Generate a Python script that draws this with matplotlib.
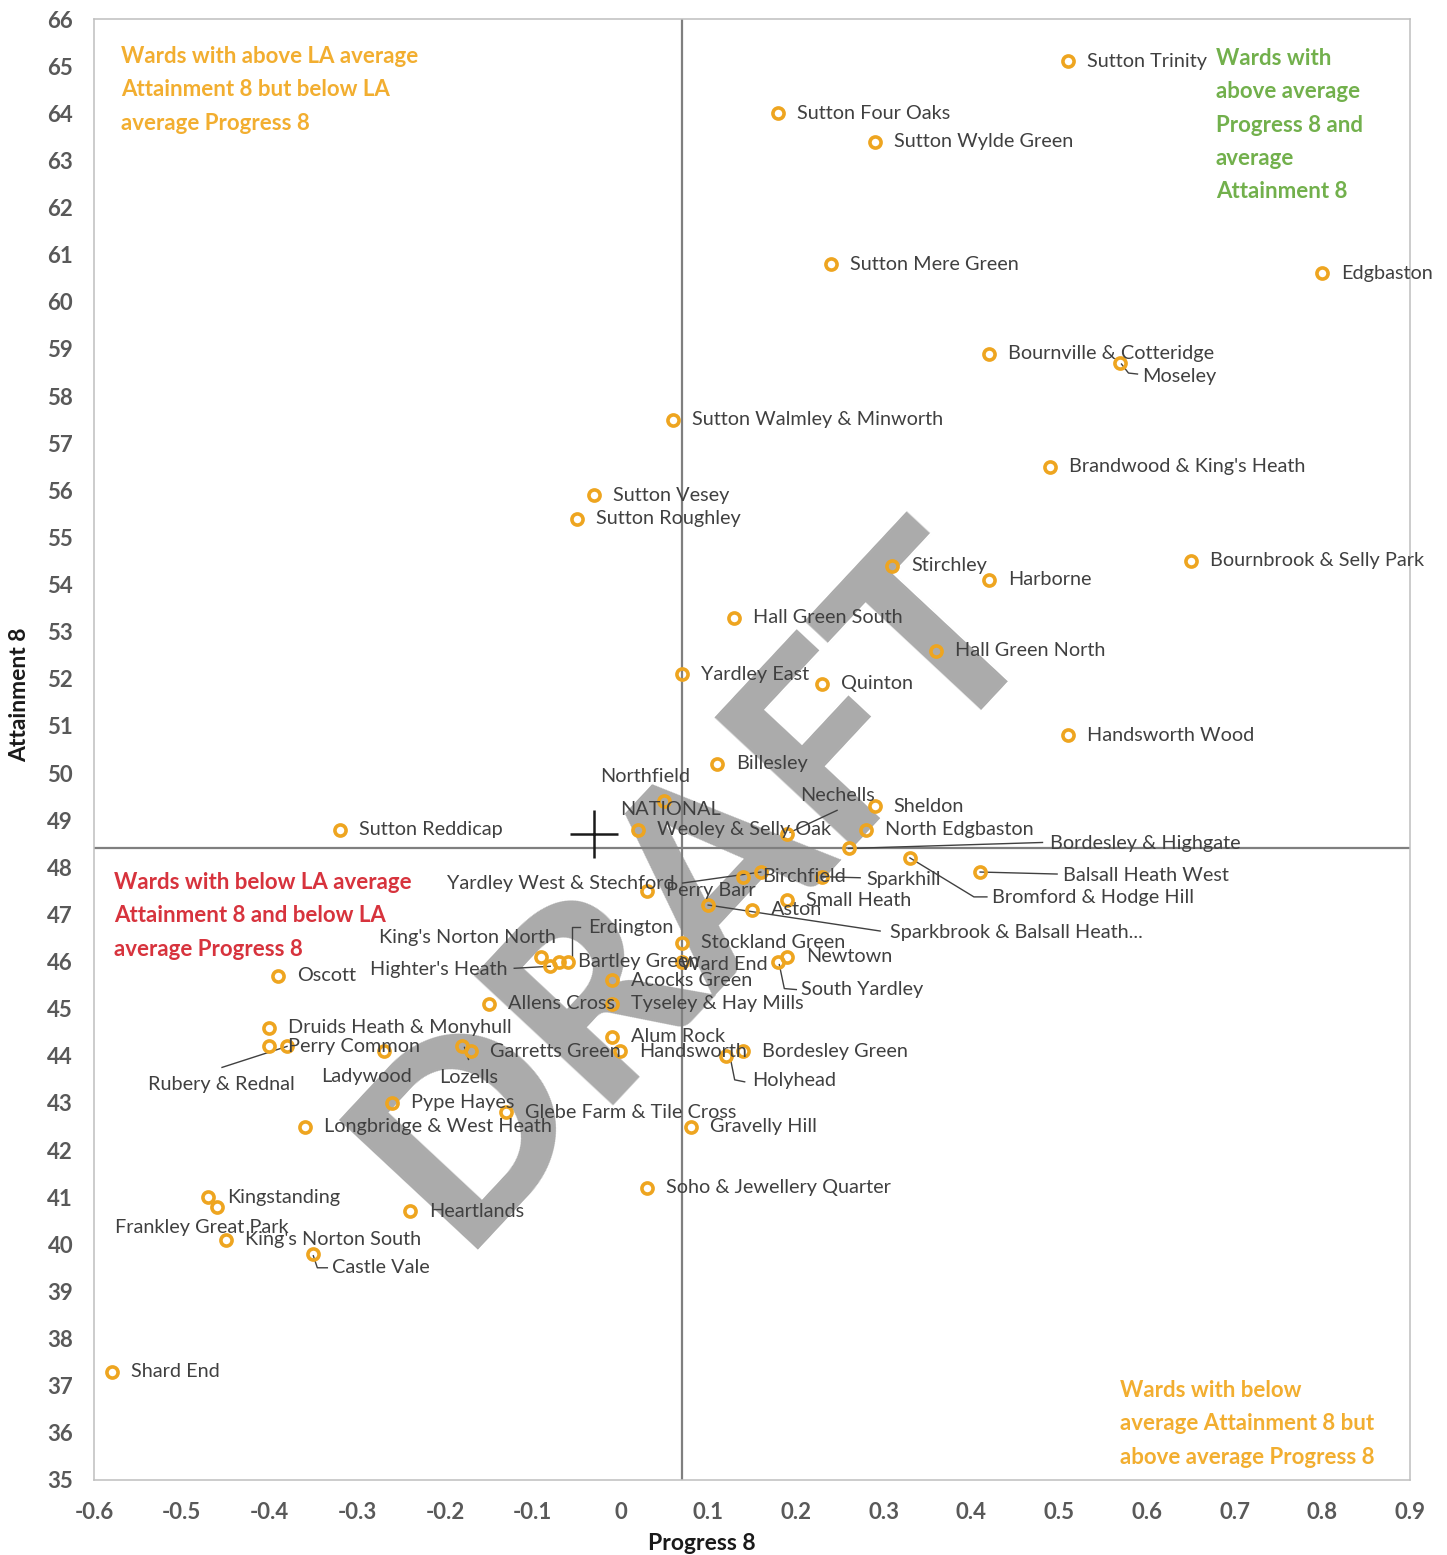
import matplotlib
matplotlib.use("Agg")
import matplotlib.pyplot as plt
import matplotlib.transforms as mtransforms
from matplotlib.lines import Line2D

# ---- data: Progress 8 / Attainment 8 by ward ----
wards = [
    "Sutton Trinity", "Sutton Four Oaks", "Sutton Wylde Green", "Sutton Mere Green",
    "Edgbaston", "Bournville & Cotteridge", "Moseley", "Sutton Walmley & Minworth",
    "Brandwood & King's Heath", "Sutton Vesey", "Sutton Roughley", "Bournbrook & Selly Park",
    "Stirchley", "Harborne", "Hall Green South", "Hall Green North", "Yardley East",
    "Quinton", "Handsworth Wood", "Billesley", "Northfield", "Sheldon",
    "Weoley & Selly Oak", "North Edgbaston", "Nechells", "Sutton Reddicap",
    "Bordesley & Highgate", "Bromford & Hodge Hill", "Balsall Heath West",
    "Yardley West & Stechford", "Birchfield", "Sparkhill", "Perry Barr", "Small Heath",
    "Aston", "Sparkbrook & Balsall Heath...", "Stockland Green", "King's Norton North",
    "Highter's Heath", "Bartley Green", "Erdington", "Ward End", "Newtown",
    "South Yardley", "Oscott", "Acocks Green", "Allens Cross", "Tyseley & Hay Mills",
    "Druids Heath & Monyhull", "Alum Rock", "Perry Common", "Rubery & Rednal",
    "Lozells", "Ladywood", "Garretts Green", "Handsworth", "Bordesley Green",
    "Holyhead", "Pype Hayes", "Glebe Farm & Tile Cross", "Longbridge & West Heath",
    "Gravelly Hill", "Soho & Jewellery Quarter", "Kingstanding", "Frankley Great Park",
    "Heartlands", "King's Norton South", "Castle Vale", "Shard End",
]
progress8 = [
    0.51, 0.18, 0.29, 0.24,
    0.80, 0.42, 0.57, 0.06,
    0.49, -0.03, -0.05, 0.65,
    0.31, 0.42, 0.13, 0.36, 0.07,
    0.23, 0.51, 0.11, 0.05, 0.29,
    0.02, 0.28, 0.19, -0.32,
    0.26, 0.33, 0.41,
    0.16, 0.14, 0.23, 0.03, 0.19,
    0.15, 0.10, 0.07, -0.09,
    -0.08, -0.07, -0.06, 0.07, 0.19,
    0.18, -0.39, -0.01, -0.15, -0.01,
    -0.40, -0.01, -0.40, -0.38,
    -0.18, -0.27, -0.17, 0.00, 0.14,
    0.12, -0.26, -0.13, -0.36,
    0.08, 0.03, -0.47, -0.46,
    -0.24, -0.45, -0.35, -0.58,
]
attainment8 = [
    65.1, 64.0, 63.4, 60.8,
    60.6, 58.9, 58.7, 57.5,
    56.5, 55.9, 55.4, 54.5,
    54.4, 54.1, 53.3, 52.6, 52.1,
    51.9, 50.8, 50.2, 49.4, 49.3,
    48.8, 48.8, 48.7, 48.8,
    48.4, 48.2, 47.9,
    47.9, 47.8, 47.8, 47.5, 47.3,
    47.1, 47.2, 46.4, 46.1,
    45.9, 46.0, 46.0, 46.0, 46.1,
    46.0, 45.7, 45.6, 45.1, 45.1,
    44.6, 44.4, 44.2, 44.2,
    44.2, 44.1, 44.1, 44.1, 44.1,
    44.0, 43.0, 42.8, 42.5,
    42.5, 41.2, 41.0, 40.8,
    40.7, 40.1, 39.8, 37.3,
]

national_label = "NATIONAL"
national_p8 = -0.03
national_a8 = 48.7

la_avg_p8 = 0.07
la_avg_a8 = 48.4

x_ticks = [-0.6, -0.5, -0.4, -0.3, -0.2, -0.1, 0, 0.1, 0.2, 0.3, 0.4, 0.5, 0.6, 0.7, 0.8, 0.9]
x_tick_labels = ["-0.6", "-0.5", "-0.4", "-0.3", "-0.2", "-0.1", "0", "0.1", "0.2",
                 "0.3", "0.4", "0.5", "0.6", "0.7", "0.8", "0.9"]
y_ticks = list(range(35, 67))

# ---- label layout (pixel offsets from the marker; default sits to the right) ----
DEFAULT_OFFSET = (19, 0, "left")
label_layout = {
    "Northfield": (-64, 25, "left"),
    "Nechells": (13, 39, "left"),
    "Bordesley & Highgate": (201, 5, "left"),
    "Bromford & Hodge Hill": (82, -40, "left"),
    "Balsall Heath West": (83, -3, "left"),
    "Sparkhill": (44, -3, "left"),
    "Yardley West & Stechford": (-86, -11, "right"),
    "Sparkbrook & Balsall Heath...": (182, -27, "left"),
    "King's Norton North": (14, 19, "right"),
    "Highter's Heath": (-43, -3, "right"),
    "Erdington": (20, 34, "left"),
    "Ward End": (-2, -3, "left"),
    "South Yardley": (23, -28, "left"),
    "Lozells": (6, -31, "center"),
    "Holyhead": (26, -25, "left"),
    "Rubery & Rednal": (-66, -38, "center"),
    "Ladywood": (-17, -25, "center"),
    "Frankley Great Park": (-15, -21, "center"),
    "Castle Vale": (19, -14, "left"),
    "Moseley": (22, -13, "left"),
}
leader_paths = {
    "Nechells": [(3, 2), (50, 24)],
    "Bordesley & Highgate": [(0, 0), (194, 6)],
    "Bromford & Hodge Hill": [(0, 0), (64, -39), (77, -39)],
    "Balsall Heath West": [(0, 0), (77, -2)],
    "Sparkhill": [(0, 0), (38, -1)],
    "Yardley West & Stechford": [(0, 0), (-78, -11)],
    "Sparkbrook & Balsall Heath...": [(0, 0), (172, -26)],
    "Highter's Heath": [(0, 0), (-36, -2)],
    "Erdington": [(4, 4), (4, 35), (12, 35)],
    "South Yardley": [(1, -3), (6, -27), (18, -28)],
    "Lozells": [(2, -1), (6, -13)],
    "Holyhead": [(5, -4), (9, -24), (19, -26)],
    "Rubery & Rednal": [(0, 0), (-65, -21)],
    "Castle Vale": [(0, -2), (4, -14), (14, -14)],
    "Moseley": [(1, -1), (8, -10), (17, -11)],
}

# ---- styling ----
W, H, DPI = 1447, 1555, 100
FONT = "Lato"
MARKER_COLOR = "#EEA520"
LABEL_COLOR = "#404040"
TICK_COLOR = "#595959"
ORANGE_TXT = "#F2AE30"
GREEN_TXT = "#72B04C"
RED_TXT = "#D7333D"
LABEL_SIZE = 14.3

plt.rcParams["font.family"] = [FONT, "DejaVu Sans"]

fig = plt.figure(figsize=(W / DPI, H / DPI), dpi=DPI)
fig.patch.set_facecolor("white")
ax = fig.add_axes([94 / W, 1 - 1480 / H, (1410 - 94) / W, (1480 - 19) / H])

ax.set_xlim(-0.6, 0.9)
ax.set_ylim(35, 66)
ax.set_xticks(x_ticks)
ax.set_xticklabels(x_tick_labels)
ax.set_yticks(y_ticks)
ax.tick_params(length=0, labelsize=16, labelcolor=TICK_COLOR)
ax.tick_params(axis="x", pad=16)
ax.tick_params(axis="y", pad=15)
for lab in ax.get_xticklabels() + ax.get_yticklabels():
    lab.set_fontweight("bold")
for s in ax.spines.values():
    s.set_color("#BFBFBF")
    s.set_linewidth(1.1)

# watermark
ax.text(695 / W, 1 - 885 / H, "DRAFT", transform=fig.transFigure, rotation=47,
        fontsize=188, fontweight="black", color="#ABABAB", ha="center", va="center",
        zorder=0.5, family=FONT)

# LA average quadrant lines
ax.axvline(la_avg_p8, color="#7F7F7F", lw=1.6, zorder=1)
ax.axhline(la_avg_a8, color="#7F7F7F", lw=1.6, zorder=1)

# ward markers
ax.plot(progress8, attainment8, linestyle="none", marker="o", markersize=8,
        markerfacecolor="none", markeredgecolor=MARKER_COLOR, markeredgewidth=2.6, zorder=3)

# national average
ax.plot([national_p8], [national_a8], marker="+", markersize=35, color="#1A1A1A",
        markeredgewidth=1.8, linestyle="none", zorder=3)
ax.annotate(national_label, (national_p8, national_a8), xytext=(26, 25),
            textcoords="offset pixels", ha="left", va="center", fontsize=LABEL_SIZE,
            color=LABEL_COLOR, zorder=4)

# ward labels and leader lines
for name, x, y in zip(wards, progress8, attainment8):
    dx, dy, ha = label_layout.get(name, DEFAULT_OFFSET)
    ax.annotate(name, (x, y), xytext=(dx, dy), textcoords="offset pixels",
                ha=ha, va="center", fontsize=LABEL_SIZE, color=LABEL_COLOR, zorder=4)
    if name in leader_paths:
        pts = leader_paths[name]
        trans = mtransforms.IdentityTransform() + mtransforms.ScaledTranslation(x, y, ax.transData)
        ax.add_line(Line2D([p[0] for p in pts], [p[1] for p in pts], transform=trans,
                           color="#404040", lw=1.0, zorder=2.5, clip_on=False))

# quadrant descriptions
qkw = dict(fontsize=16, fontweight="bold", linespacing=1.72, va="center", ha="left",
           transform=fig.transFigure)
ax.text(121 / W, 1 - 90 / H,
        "Wards with above LA average\nAttainment 8 but below LA\naverage Progress 8",
        color=ORANGE_TXT, **qkw)
ax.text(1216 / W, 1 - 125 / H,
        "Wards with\nabove average\nProgress 8 and\naverage\nAttainment 8",
        color=GREEN_TXT, **qkw)
ax.text(114 / W, 1 - 916 / H,
        "Wards with below LA average\nAttainment 8 and below LA\naverage Progress 8",
        color=RED_TXT, **qkw)
ax.text(1120 / W, 1 - 1424 / H,
        "Wards with below\naverage Attainment 8 but\nabove average Progress 8",
        color=ORANGE_TXT, **qkw)

# axis titles
fig.text(702 / W, 1 - 1543 / H, "Progress 8", ha="center", va="center",
         fontsize=16.5, fontweight="bold", color="#1A1A1A")
fig.text(20 / W, 1 - 695 / H, "Attainment 8", ha="center", va="center", rotation=90,
         fontsize=16.5, fontweight="bold", color="#1A1A1A")

fig.savefig("out.png", dpi=DPI, facecolor="white")
